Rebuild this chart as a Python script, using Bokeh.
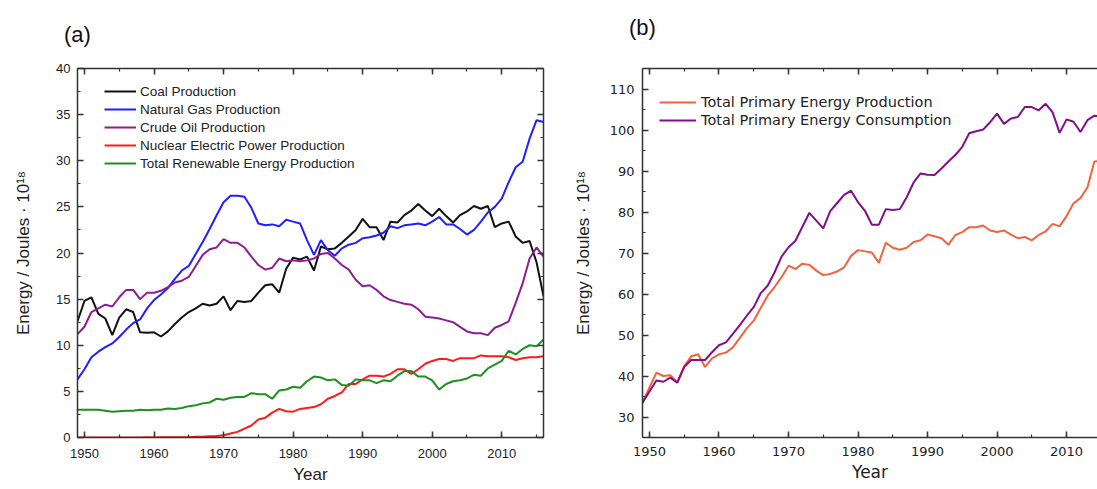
from bokeh.plotting import figure
from bokeh.models import (LinearAxis, SingleIntervalTicker, Range1d, Legend, LegendItem,
                          CustomJSTickFormatter)
from bokeh.layouts import row
from bokeh.embed import file_html
from bokeh.resources import INLINE

# ---------------- data: panel (a) ----------------
years_a = list(range(1949, 2017))
coal = [12.6, 14.8, 15.2, 13.4, 12.9, 11.1, 13.0, 13.9, 13.6, 11.4,
        11.35, 11.4, 10.95, 11.5, 12.3, 13.0, 13.6, 14.0, 14.5, 14.3,
        14.5, 15.3, 13.8, 14.8, 14.7, 14.8, 15.7, 16.5, 16.6, 15.7,
        18.3, 19.5, 19.3, 19.6, 18.1, 20.7, 20.4, 20.5, 21.1, 21.8,
        22.5, 23.7, 22.8, 22.8, 21.4, 23.4, 23.3, 24.1, 24.6, 25.3,
        24.6, 24.0, 24.8, 24.0, 23.3, 24.1, 24.5, 25.1, 24.8, 25.1,
        22.8, 23.2, 23.4, 21.8, 21.1, 21.3, 19.0, 15.3]
natural_gas = [6.3, 7.4, 8.7, 9.3, 9.8, 10.2, 10.9, 11.7, 12.4, 12.8,
               14.0, 14.9, 15.5, 16.2, 17.2, 18.1, 18.6, 19.9, 21.2, 22.6,
               24.1, 25.5, 26.2, 26.2, 26.1, 24.9, 23.2, 23.0, 23.1, 22.9,
               23.6, 23.4, 23.2, 21.4, 19.8, 21.4, 20.3, 19.7, 20.5, 20.9,
               21.1, 21.6, 21.7, 21.9, 22.2, 22.9, 22.7, 23.0, 23.1, 23.2,
               23.0, 23.4, 23.9, 23.1, 23.1, 22.6, 22.0, 22.5, 23.4, 24.4,
               25.0, 25.9, 27.7, 29.3, 29.9, 32.4, 34.4, 34.2]
crude_oil = [11.2, 12.0, 13.6, 14.0, 14.4, 14.2, 15.2, 16.0, 16.0, 15.0,
             15.7, 15.7, 15.9, 16.3, 16.8, 17.0, 17.4, 18.6, 19.8, 20.4,
             20.6, 21.5, 21.1, 21.1, 20.6, 19.6, 18.7, 18.2, 18.4, 19.4,
             19.1, 19.2, 19.1, 19.2, 19.4, 19.9, 20.0, 19.4, 18.7, 18.2,
             17.1, 16.4, 16.5, 16.0, 15.3, 14.9, 14.7, 14.5, 14.4, 13.9,
             13.1, 13.0, 12.9, 12.7, 12.5, 12.0, 11.5, 11.3, 11.3, 11.1,
             11.9, 12.2, 12.6, 14.6, 16.7, 19.4, 20.6, 19.6]
nuclear = [0, 0, 0, 0, 0, 0, 0, 0, 0.01, 0.01,
           0.02, 0.01, 0.02, 0.03, 0.04, 0.04, 0.04, 0.07, 0.09, 0.14,
           0.15, 0.25, 0.43, 0.61, 0.96, 1.3, 1.95, 2.15, 2.7, 3.1,
           2.85, 2.8, 3.1, 3.2, 3.3, 3.6, 4.2, 4.5, 4.9, 5.8,
           5.8, 6.3, 6.7, 6.7, 6.6, 6.9, 7.4, 7.4, 6.9, 7.4,
           8.0, 8.3, 8.5, 8.5, 8.3, 8.6, 8.6, 8.6, 8.9, 8.8,
           8.8, 8.8, 8.7, 8.4, 8.6, 8.7, 8.7, 8.8]
renewable = [3.0, 3.0, 3.0, 3.0, 2.9, 2.8, 2.85, 2.9, 2.9, 3.0,
             2.95, 3.0, 3.0, 3.15, 3.1, 3.2, 3.4, 3.5, 3.7, 3.8,
             4.2, 4.1, 4.3, 4.4, 4.4, 4.8, 4.7, 4.7, 4.2, 5.1,
             5.2, 5.5, 5.4, 6.1, 6.6, 6.5, 6.2, 6.3, 5.7, 5.6,
             6.3, 6.2, 6.2, 5.9, 6.2, 6.1, 6.7, 7.2, 7.2, 6.6,
             6.6, 6.2, 5.2, 5.8, 6.1, 6.2, 6.4, 6.8, 6.7, 7.5,
             7.9, 8.3, 9.4, 9.0, 9.6, 10.0, 9.9, 10.6]
labels_a = ["Coal Production", "Natural Gas Production", "Crude Oil Production",
            "Nuclear Electric Power Production", "Total Renewable Energy Production"]

# ---------------- data: panel (b) ----------------
years_b = list(range(1949, 2016))
production = [33.5, 37.2, 40.8, 40.0, 40.2, 38.4, 42.4, 44.8, 45.3, 42.2,
              44.3, 45.3, 45.7, 47.0, 49.3, 51.6, 53.5, 56.6, 59.6, 61.7,
              64.1, 66.9, 66.1, 67.4, 67.1, 65.7, 64.6, 64.9, 65.5, 66.5,
              69.3, 70.7, 70.4, 70.1, 67.6, 72.5, 71.3, 70.8, 71.3, 72.7,
              73.1, 74.5, 74.1, 73.6, 72.0, 74.4, 75.1, 76.3, 76.3, 76.7,
              75.5, 75.1, 75.5, 74.5, 73.6, 73.9, 73.1, 74.4, 75.3, 77.1,
              76.5, 79.0, 82.1, 83.4, 86.0, 92.3, 92.5]
consumption = [33.5, 36.2, 38.9, 38.6, 39.6, 38.4, 42.2, 43.9, 43.9, 43.9,
               45.8, 47.5, 48.2, 50.3, 52.4, 54.7, 56.8, 60.2, 62.0, 65.3,
               69.1, 71.4, 73.0, 76.4, 79.8, 77.9, 76.0, 80.2, 82.2, 84.2,
               85.2, 82.4, 80.3, 76.9, 76.9, 80.7, 80.5, 80.7, 83.6, 87.2,
               89.4, 89.1, 89.0, 90.6, 92.3, 93.9, 95.9, 99.2, 99.7, 100.1,
               101.9, 104.0, 101.5, 102.8, 103.2, 105.6, 105.6, 104.8, 106.4, 104.3,
               99.3, 102.6, 102.0, 99.5, 102.4, 103.5, 103.3]
labels_b = ["Total Primary Energy Production", "Total Primary Energy Consumption"]
panel_tags = ["(a)", "(b)"]

y_label = "Energy / Joules \u00b7 10\u00b9\u2078"
AX = "#333333"


def style_axis(ax, font, size, ticker, show_labels=True, standoff=6):
    ax.ticker = ticker
    ax.axis_line_color = AX
    ax.axis_line_width = 1.5
    ax.major_tick_line_color = AX
    ax.minor_tick_line_color = AX
    ax.major_tick_line_width = 1.5
    ax.minor_tick_line_width = 1.2
    ax.major_tick_in = 6
    ax.major_tick_out = 0
    ax.minor_tick_in = 3
    ax.minor_tick_out = 0
    ax.major_label_standoff = standoff
    ax.major_label_text_font = font
    ax.major_label_text_font_size = size
    ax.major_label_text_color = "#222222"
    ax.axis_label_text_font_style = "normal"
    ax.axis_label_text_color = "#222222"
    if not show_labels:
        ax.formatter = CustomJSTickFormatter(code="return ''")
        ax.major_label_standoff = 0
        ax.major_label_text_font_size = "0px"


def tag_axis(ax, text, standoff):
    # panel tag "(a)"/"(b)" drawn as the label of the mirrored top axis
    ax.axis_label = text
    ax.axis_label_text_font = "Liberation Sans"
    ax.axis_label_text_font_size = "22px"
    ax.axis_label_text_font_style = "normal"
    ax.axis_label_text_color = "#111111"
    ax.axis_label_align = "start"
    ax.axis_label_text_align = "left"
    ax.axis_label_standoff = standoff


# ================= panel (a) =================
pa = figure(width=570, height=489, x_range=Range1d(1949, 2016), y_range=Range1d(0, 40),
            output_backend="svg", toolbar_location=None,
            min_border_left=77, min_border_right=27, min_border_top=68, min_border_bottom=50)
pa.outline_line_color = None
pa.xgrid.visible = False
pa.ygrid.visible = False

xa = pa.xaxis[0]
ya = pa.yaxis[0]
style_axis(xa, "Liberation Sans", "13px", SingleIntervalTicker(interval=10, num_minor_ticks=2), standoff=11)
style_axis(ya, "Liberation Sans", "13px", SingleIntervalTicker(interval=5, num_minor_ticks=2), standoff=7)
xa.axis_label = "Year"
xa.axis_label_text_font = "Liberation Sans"
xa.axis_label_text_font_size = "17px"
xa.axis_label_standoff = 4
ya.axis_label = y_label
ya.axis_label_text_font = "Liberation Sans"
ya.axis_label_text_font_size = "17px"
ya.axis_label_standoff = 20

top_a = LinearAxis()
style_axis(top_a, "Liberation Sans", "13px", SingleIntervalTicker(interval=10, num_minor_ticks=2), show_labels=False)
tag_axis(top_a, panel_tags[0], 22)
pa.add_layout(top_a, "above")
right_a = LinearAxis()
style_axis(right_a, "Liberation Sans", "13px", SingleIntervalTicker(interval=5, num_minor_ticks=2), show_labels=False)
pa.add_layout(right_a, "right")

colors_a = ["#111111", "#1f1fff", "#8b1f8f", "#ff1a1a", "#1f8f1f"]
series_a = [coal, natural_gas, crude_oil, nuclear, renewable]
rends_a = []
for vals, col in zip(series_a, colors_a):
    rends_a.append(pa.line(years_a, vals, line_color=col, line_width=2))

leg_a = Legend(items=[LegendItem(label=l, renderers=[r]) for l, r in zip(labels_a, rends_a)],
               location=(27, 265), padding=0, margin=0, border_line_color=None,
               background_fill_alpha=0, label_text_font="Liberation Sans",
               label_text_font_size="13.5px", label_text_color="#222222",
               glyph_width=32, glyph_height=18, label_height=18, spacing=0, label_standoff=4)
pa.add_layout(leg_a)

# ================= panel (b) =================
pb = figure(width=527, height=489, x_range=Range1d(1949, 2014.45), y_range=Range1d(25, 115),
            output_backend="svg", toolbar_location=None,
            min_border_left=72, min_border_right=0, min_border_top=66, min_border_bottom=52)
pb.outline_line_color = None
pb.xgrid.visible = False
pb.ygrid.visible = False

xb = pb.xaxis[0]
yb = pb.yaxis[0]
style_axis(xb, "DejaVu Sans", "13px", SingleIntervalTicker(interval=10, num_minor_ticks=2), standoff=9)
style_axis(yb, "DejaVu Sans", "13px", SingleIntervalTicker(interval=10, num_minor_ticks=2), standoff=8)
xb.axis_label = "Year"
xb.axis_label_text_font = "DejaVu Sans"
xb.axis_label_text_font_size = "17px"
xb.axis_label_standoff = 3
yb.axis_label = y_label
yb.axis_label_text_font = "Liberation Sans"
yb.axis_label_text_font_size = "17px"
yb.axis_label_standoff = 14

top_b = LinearAxis()
style_axis(top_b, "DejaVu Sans", "13px", SingleIntervalTicker(interval=10, num_minor_ticks=2), show_labels=False)
tag_axis(top_b, panel_tags[1], 29)
pb.add_layout(top_b, "above")

colors_b = ["#f2633f", "#80108a"]
rends_b = []
for vals, col in zip([production, consumption], colors_b):
    rends_b.append(pb.line(years_b, vals, line_color=col, line_width=2))

leg_b = Legend(items=[LegendItem(label=l, renderers=[r]) for l, r in zip(labels_b, rends_b)],
               location=(17, 308), padding=0, margin=0, border_line_color=None,
               background_fill_alpha=0, label_text_font="DejaVu Sans",
               label_text_font_size="14.5px", label_text_color="#222222",
               glyph_width=37, glyph_height=18, label_height=18, spacing=0, label_standoff=5)
pb.add_layout(leg_b)

layout = row(pa, pb)
open("out.html", "w").write(file_html(layout, INLINE))
